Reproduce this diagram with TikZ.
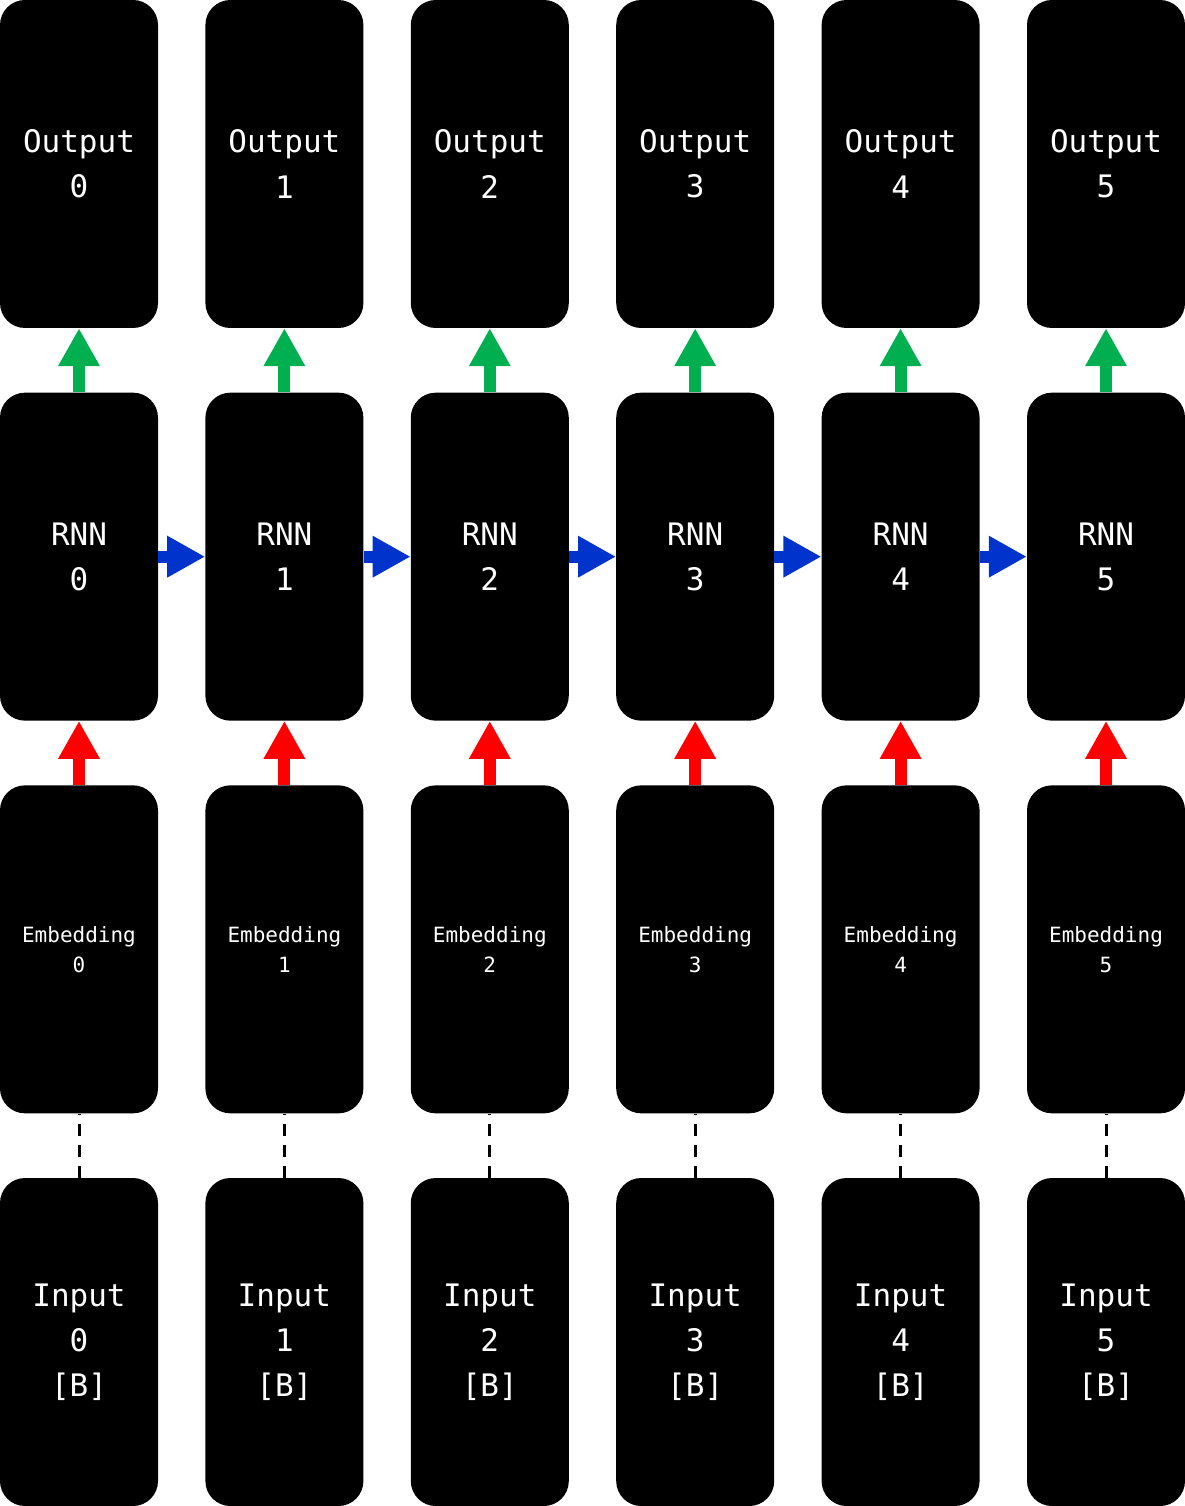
\documentclass[tikz,border=0pt]{standalone}
\usepackage{fontspec}
\setmonofont{DejaVu Sans Mono}
\usetikzlibrary{arrows.meta}
\definecolor{arrowgreen}{RGB}{0,176,80}
\definecolor{arrowred}{RGB}{255,0,0}
\definecolor{arrowblue}{RGB}{0,51,204}

\begin{document}
\begin{tikzpicture}[x=205.4pt,y=-392.67pt,
  cell/.style={fill=black,rounded corners=25pt,minimum width=158pt,minimum height=328pt,
    inner sep=0pt,text=white,align=center,font=\ttfamily\fontsize{31}{45}\selectfont},
  small/.style={font=\ttfamily\fontsize{21}{30}\selectfont},
  fat/.style={line width=12pt,-{Triangle[length=38pt,width=39pt]}},
  dashline/.style={line width=3pt,dash pattern=on 12pt off 9pt}]
  \useasboundingbox (-79pt,164pt) rectangle (1106pt,-1342pt);
  \foreach \c in {0,...,5}{
    \node[cell] (out\c) at (\c,0) {Output\\\c};
    \node[cell] (rnn\c) at (\c,1) {RNN\\\c};
    \node[cell,small] (emb\c) at (\c,2) {Embedding\\\c};
    \node[cell] (in\c) at (\c,3) {Input\\\c\\{[B]}};
  }
  \foreach \c in {0,...,5}{
    \draw[fat,arrowgreen] (rnn\c.north) -- (out\c.south);
    \draw[fat,arrowred] (emb\c.north) -- (rnn\c.south);
    \draw[dashline] (in\c.north) -- (emb\c.south);
  }
  \foreach \c [evaluate=\c as \n using int(\c+1)] in {0,...,4}
    \draw[fat,arrowblue] (rnn\c.east) -- (rnn\n.west);
\end{tikzpicture}
\end{document}
